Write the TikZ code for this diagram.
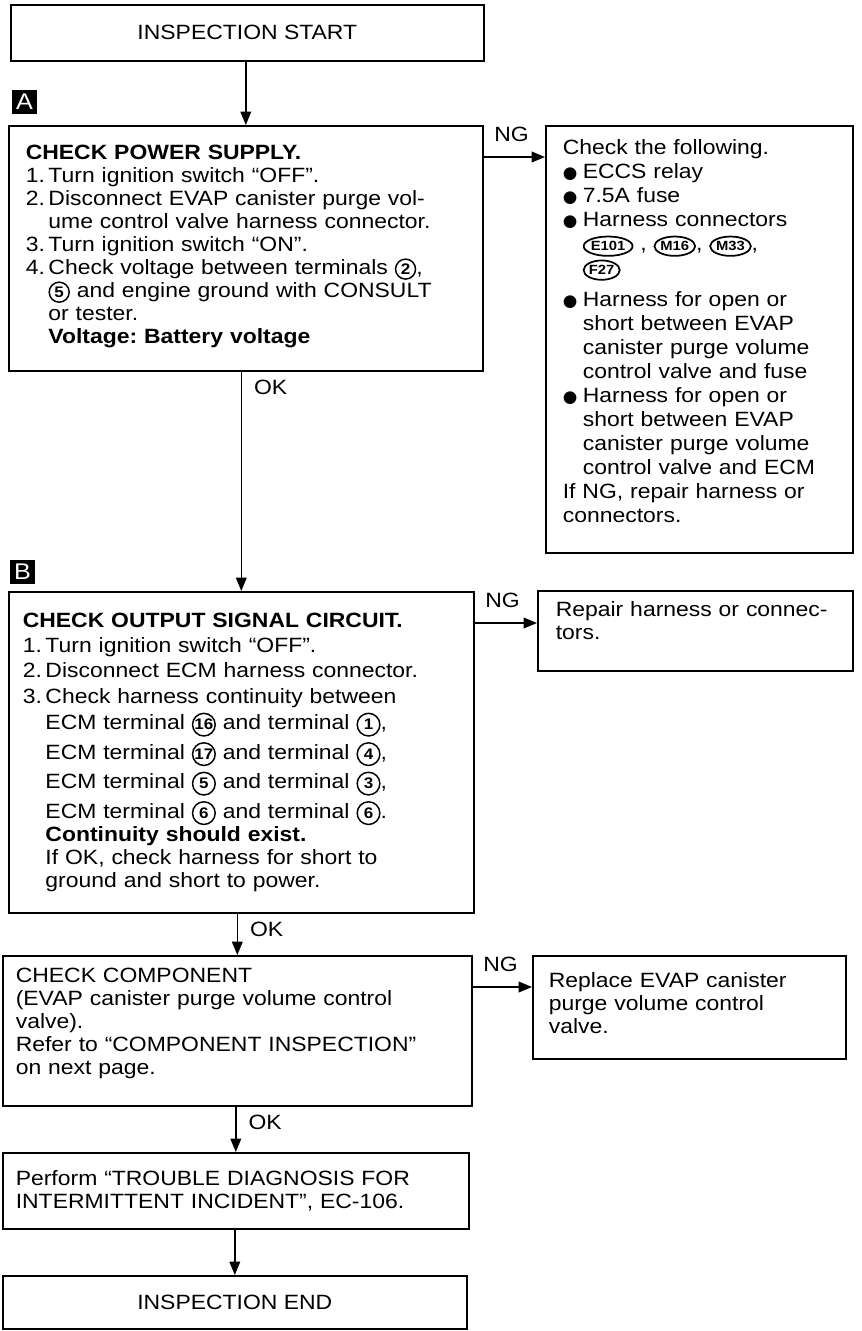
\documentclass[tikz,border=0pt]{standalone}
\usepackage{fontspec}
\setmainfont{Liberation Sans}[FakeStretch=1.11]
\newfontfamily\symb{DejaVu Sans}
\usetikzlibrary{arrows.meta, shapes.geometric, positioning}

\newcommand{\bodyfont}{\fontsize{15.5}{17.2}\selectfont\frenchspacing}
% circled terminal number
\newcommand{\trm}[2][15pt]{\tikz[baseline=(trm.base)]\node[circle, draw,
  line width=1.1pt, inner sep=0pt, minimum size=#1, text width={},
  align=center, font=\fontsize{11.5}{11.5}\selectfont\bfseries] (trm) {#2};}
% harness connector in an ellipse
\newcommand{\conn}[1]{\tikz[baseline=(cn.base)]\node[ellipse, draw,
  line width=1.3pt, inner xsep=0pt, inner ysep=0pt, minimum height=14.5pt,
  text width={}, align=center,
  font=\fontsize{10}{10}\selectfont\bfseries] (cn) {#1};}
\newcommand{\nm}[1]{\makebox[17pt][l]{#1}}
\newcommand{\bl}{\makebox[15pt][l]{\symb\fontsize{12.5}{12.5}\selectfont ●}}
\newcommand{\bi}{\hspace*{15pt}}
\newcommand{\lift}[1]{\rule[-#1]{0pt}{#1}}

\tikzset{
  box/.style    = {draw, line width=1.2pt, anchor=north west,
                   align=left, font=\bodyfont, inner ysep=2pt},
  endbox/.style = {box, align=center},
  tagbox/.style = {fill=black, text=white, inner sep=0pt,
                   minimum width=18.5pt, minimum height=18pt,
                   font=\fontsize{17}{17}\selectfont},
  arr/.style    = {-{Triangle[length=10pt, width=8pt]}, line width=1.1pt},
  ngl/.style    = {anchor=south west, inner sep=0pt, xshift=7.5pt,
                   yshift=11pt, font=\bodyfont},
  okl/.style    = {anchor=north west, inner sep=0pt, xshift=9pt,
                   yshift=-6pt, font=\bodyfont},
}

\begin{document}
\begin{tikzpicture}[x=0.75pt, y=-0.75pt]
  \fill[white] (0,0) rectangle (861,1331);
  \useasboundingbox (0,0) rectangle (861,1331);

  \node[endbox, minimum width=354.75pt, minimum height=42pt] (start)
    at (10,4) {INSPECTION START};

  % A
  \node[tagbox] (tagA) at (24.5,102) {A};
  \node[box, text width=330pt, inner xsep=12.75pt, minimum height=183.75pt]
    (chkA) at (8,125) {
    \textbf{CHECK POWER SUPPLY.}\\
    \nm{1.}Turn ignition switch “OFF”.\\
    \nm{2.}Disconnect EVAP canister purge vol-\\
    \nm{}ume control valve harness connector.\\
    \nm{3.}Turn ignition switch “ON”.\\
    \nm{4.}Check voltage between terminals \trm{2},\\
    \nm{}\trm{5} and engine ground with CONSULT\\
    \nm{}or tester.\\
    \nm{}\textbf{Voltage: Battery voltage}\lift{6pt}
  };
  \node[box, text width=204.75pt, inner xsep=12.75pt, minimum height=320.25pt,
        font=\fontsize{15.5}{18}\selectfont] (fixA) at (545,125) {
    Check the following.\\
    \bl ECCS relay\\
    \bl 7.5A fuse\\
    \bl Harness connectors\\
    \bi\conn{E101} , \conn{M16}, \conn{M33},\\
    \bi\conn{F27}\\[6pt]
    \bl Harness for open or\\
    \bi short between EVAP\\
    \bi canister purge volume\\
    \bi control valve and fuse\\
    \bl Harness for open or\\
    \bi short between EVAP\\
    \bi canister purge volume\\
    \bi control valve and ECM\\
    If NG, repair harness or\\
    connectors.\lift{12pt}
  };

  % B
  \node[tagbox] (tagB) at (22.5,572) {B};
  \node[box, text width=327.75pt, inner xsep=10.5pt, minimum height=240.75pt]
    (chkB) at (8,591) {
    \textbf{CHECK OUTPUT SIGNAL CIRCUIT.}\\[1.5pt]
    \nm{1.}Turn ignition switch “OFF”.\\[1.5pt]
    \nm{2.}Disconnect ECM harness connector.\\[2pt]
    \nm{3.}Check harness continuity between\\[3pt]
    \nm{}ECM terminal \trm[17pt]{16} and terminal \trm[17pt]{1},\\[3pt]
    \nm{}ECM terminal \trm[17pt]{17} and terminal \trm[17pt]{4},\\[3pt]
    \nm{}ECM terminal \trm[17pt]{5} and terminal \trm[17pt]{3},\\[3pt]
    \nm{}ECM terminal \trm[17pt]{6} and terminal \trm[17pt]{6}.\\
    \nm{}\textbf{Continuity should exist.}\\
    \nm{}If OK, check harness for short to\\
    \nm{}ground and short to power.
  };
  \node[box, text width=209.25pt, inner xsep=13.5pt, minimum height=60pt]
    (fixB) at (537,590) {
    Repair harness or connec-\\
    tors.\lift{15pt}
  };

  % component
  \node[box, text width=332.25pt, inner xsep=9.75pt, minimum height=112.5pt]
    (chkC) at (2,955) {
    CHECK COMPONENT\\
    (EVAP canister purge volume control\\
    valve).\\
    Refer to “COMPONENT INSPECTION”\\
    on next page.\lift{14pt}
  };
  \node[box, text width=210.75pt, inner xsep=12pt, minimum height=77.25pt]
    (fixC) at (532,955) {
    Replace EVAP canister\\
    purge volume control\\
    valve.\lift{7pt}
  };

  \node[box, text width=330pt, inner xsep=9.75pt, minimum height=57pt]
    (diag) at (2,1152) {
    Perform “TROUBLE DIAGNOSIS FOR\\
    INTERMITTENT INCIDENT”, EC-106.
  };
  \node[endbox, minimum width=348pt, minimum height=39.75pt] (finish)
    at (2,1275) {INSPECTION END};

  % OK path
  \draw[arr] (start.south -| chkA.north) -- (chkA.north);
  \draw[arr] (chkA.south -| chkB.north) -- node[okl, pos=0] {OK} (chkB.north);
  \draw[arr] (chkB.south -| chkC.north) -- node[okl, pos=0] {OK} (chkC.north);
  \draw[arr] (chkC.south -| diag.north) -- node[okl, pos=0] {OK} (diag.north);
  \draw[arr] (diag.south -| finish.north) -- (finish.north);

  % NG branches
  \coordinate (ngA) at ([yshift=-24pt]chkA.north east);
  \coordinate (ngB) at ([yshift=-24pt]chkB.north east);
  \coordinate (ngC) at ([yshift=-24pt]chkC.north east);
  \draw[arr] (ngA) -- node[ngl, pos=0] {NG} (ngA -| fixA.west);
  \draw[arr] (ngB) -- node[ngl, pos=0] {NG} (ngB -| fixB.west);
  \draw[arr] (ngC) -- node[ngl, pos=0] {NG} (ngC -| fixC.west);

\end{tikzpicture}
\end{document}
